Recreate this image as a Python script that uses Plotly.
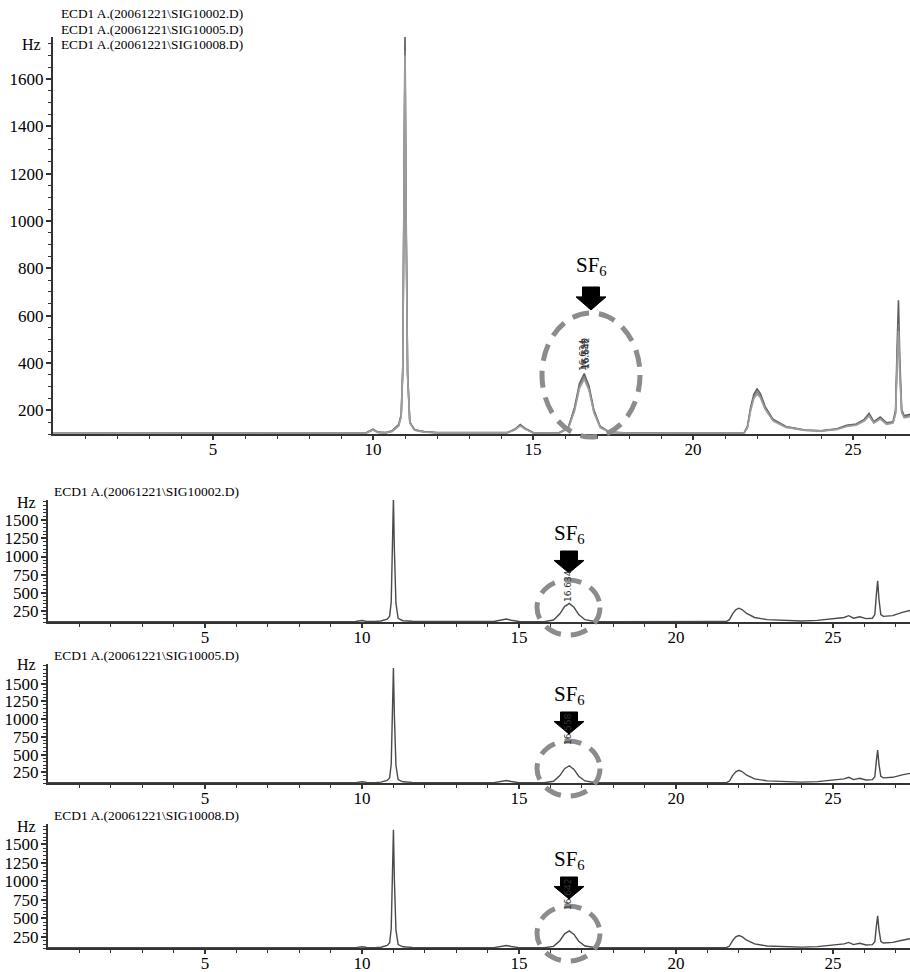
import plotly.graph_objects as go

# ---------------- data ----------------
t = [0.0, 9.5, 9.8, 10.0, 10.15, 10.4, 10.6, 10.8, 10.88, 10.93, 10.97, 11.0, 11.03, 11.08,
     11.15, 11.3, 11.6, 12.0, 14.2, 14.45, 14.6, 14.75, 15.0, 15.8, 16.1, 16.3, 16.45, 16.6,
     16.75, 16.9, 17.1, 17.4, 18.0, 21.6, 21.7, 21.8, 21.9, 22.0, 22.1, 22.25, 22.5, 22.9,
     23.5, 24.0, 24.5, 24.8, 25.1, 25.35, 25.5, 25.65, 25.85, 26.05, 26.25, 26.33, 26.38,
     26.42, 26.46, 26.52, 26.6, 26.9, 27.2, 27.5]

sig_10002 = [103, 103, 106, 120, 108, 106, 114, 140, 180, 380, 1200, 1800, 1100, 360,
             150, 118, 110, 106, 106, 122, 140, 124, 106, 104, 127, 212, 312, 355,
             302, 202, 132, 108, 104, 106, 132, 212, 268, 290, 272, 217, 162, 132,
             117, 114, 122, 137, 142, 162, 187, 152, 172, 147, 152, 202, 480,
             665, 420, 202, 177, 187, 232, 262]

sig_10005 = [103, 103, 105, 118, 107, 105, 112, 136, 175, 370, 1150, 1720, 1050, 350,
             148, 117, 109, 105, 105, 120, 136, 122, 105, 103, 124, 205, 302, 343,
             292, 196, 129, 107, 103, 105, 128, 204, 258, 278, 262, 210, 158, 130,
             116, 113, 120, 134, 139, 158, 180, 148, 166, 143, 148, 190, 420,
             565, 370, 195, 172, 180, 215, 240]

sig_10008 = [103, 103, 105, 117, 106, 105, 111, 134, 172, 365, 1130, 1700, 1030, 345,
             146, 116, 108, 105, 105, 119, 134, 121, 105, 103, 122, 198, 292, 332,
             284, 191, 127, 107, 103, 105, 126, 198, 250, 268, 254, 205, 155, 128,
             115, 112, 119, 132, 137, 155, 176, 146, 163, 141, 146, 185, 400,
             535, 355, 190, 168, 176, 205, 228]

run_names = ["ECD1 A.(20061221\\SIG10002.D)",
             "ECD1 A.(20061221\\SIG10005.D)",
             "ECD1 A.(20061221\\SIG10008.D)"]
peak_rt_labels = ["16.634", "16.558", "16.642"]
runs = [sig_10002, sig_10005, sig_10008]

x_ticks = [5, 10, 15, 20, 25]
x_minor = list(range(1, 28))
y_ticks_top = [200, 400, 600, 800, 1000, 1200, 1400, 1600]
y_ticks_bottom = [250, 500, 750, 1000, 1250, 1500]

# ---------------- layout helpers (pixel -> paper) ----------------
W, H = 910, 972
ML, MR, MT, MB = 48, 0, 37, 24
PW, PH = W - ML - MR, H - MT - MB


def px(x):
    return (x - ML) / PW


def py(y):
    return (H - MB - y) / PH


FONT = "Liberation Serif"
AX = "#333333"

fig = go.Figure()

top_colors = ["#5e5e5e", "#7e7e7e", "#9e9e9e"]
for i, sig in enumerate(runs):
    fig.add_trace(go.Scatter(x=t, y=sig, mode="lines", xaxis="x", yaxis="y",
                             line=dict(color=top_colors[i], width=1.6),
                             showlegend=False, hoverinfo="skip"))
for i, sig in enumerate(runs):
    fig.add_trace(go.Scatter(x=t, y=sig, mode="lines", xaxis=f"x{i+2}", yaxis=f"y{i+2}",
                             line=dict(color="#4a4a4a", width=1.4),
                             showlegend=False, hoverinfo="skip"))

# panel pixel extents (top, bottom of plot area)
panels = [(37, 434), (500, 622), (664, 783), (824, 948)]
xdom_top = [px(53), 1.0]


def xax(dom, rng, anchor):
    return dict(domain=dom, range=rng, anchor=anchor, showline=True, linecolor=AX,
                linewidth=2, ticks="outside", ticklen=4, tickwidth=1.5, tickcolor=AX,
                tickmode="array", tickvals=x_ticks, showgrid=False, zeroline=False,
                ticklabelstandoff=-5,
                tickfont=dict(family=FONT, size=17, color="black"),
                minor=dict(tickmode="array", tickvals=x_minor, ticks="outside",
                           ticklen=3, tickwidth=1.2, tickcolor=AX),
                fixedrange=True)


def yax(dom, tickvals, anchor, minor_dt):
    return dict(domain=dom, range=[100, 1777], anchor=anchor, showline=True,
                linecolor=AX, linewidth=2, ticks="outside", ticklen=5, tickwidth=1.5,
                tickcolor=AX, tickmode="array", tickvals=tickvals, showgrid=False,
                zeroline=False, ticklabelstandoff=-1,
                tickfont=dict(family=FONT, size=17, color="black"),
                minor=dict(dtick=minor_dt, tick0=0, ticks="outside", ticklen=3,
                           tickwidth=1.2, tickcolor=AX),
                fixedrange=True)


layout = dict(width=W, height=H, margin=dict(l=ML, r=MR, t=MT, b=MB),
              paper_bgcolor="white", plot_bgcolor="white", showlegend=False)
layout["xaxis"] = xax(xdom_top, [0, 26.78], "y")
layout["yaxis"] = yax([py(panels[0][1]), py(panels[0][0])], y_ticks_top, "x", 50)
for i in range(3):
    top, bot = panels[i + 1]
    layout[f"xaxis{i+2}"] = xax([0, 1], [0, 27.45], f"y{i+2}")
    layout[f"yaxis{i+2}"] = yax([py(bot), py(top)], y_ticks_bottom, f"x{i+2}", 50)
fig.update_layout(**layout)

ann = []
shapes = []

# titles
for k, name in enumerate(run_names):
    ann.append(dict(x=px(59), y=py(14 + 15.5 * k), xref="paper", yref="paper",
                    text=name, showarrow=False, xanchor="left", yanchor="middle",
                    font=dict(family=FONT, size=13.3, color="black")))
hz_pos = [(43, 45), (38, 502), (38, 664), (38, 826)]
for (hx, hy) in hz_pos:
    ann.append(dict(x=px(hx), y=py(hy), xref="paper", yref="paper", text="Hz",
                    showarrow=False, xanchor="right", yanchor="middle",
                    font=dict(family=FONT, size=16, color="black")))
for i in range(3):
    ann.append(dict(x=px(52), y=py(panels[i + 1][0] - 9), xref="paper", yref="paper",
                    text=run_names[i], showarrow=False, xanchor="left",
                    yanchor="middle", font=dict(family=FONT, size=13.5, color="black")))


def sf6_group(cx, text_y, arrow_top, ah, hw, sw, ell):
    ann.append(dict(x=px(cx), y=py(text_y), xref="paper", yref="paper",
                    text="SF<sub>6</sub>", showarrow=False, xanchor="center",
                    yanchor="middle", font=dict(family=FONT, size=21, color="black")))
    stem_h = ah * 0.43
    pts = [(cx - sw, arrow_top), (cx + sw, arrow_top), (cx + sw, arrow_top + stem_h),
           (cx + hw, arrow_top + stem_h), (cx, arrow_top + ah),
           (cx - hw, arrow_top + stem_h), (cx - sw, arrow_top + stem_h)]
    path = "M " + " L ".join(f"{px(a):.5f},{py(b):.5f}" for a, b in pts) + " Z"
    shapes.append(dict(type="path", path=path, xref="paper", yref="paper",
                       fillcolor="black", line=dict(color="black", width=1),
                       layer="above"))
    x0, x1, y0, y1 = ell
    shapes.append(dict(type="circle", xref="paper", yref="paper",
                       x0=px(x0), x1=px(x1), y0=py(y1), y1=py(y0),
                       line=dict(color="#8c8c8c", width=5, dash="17px,10px"),
                       layer="above"))


# top panel
sf6_group(591, 266, 287, 23, 15, 8.5, (542, 640, 313, 437))
for k, lab in enumerate(peak_rt_labels):
    ann.append(dict(x=px(583 + k * 1.5), y=py(355 - k), xref="paper", yref="paper",
                    text=lab, showarrow=False, textangle=-90,
                    font=dict(family="DejaVu Sans", size=9, color="#333333")))
# bottom panels
for i in range(3):
    ab = panels[i + 1][1]
    sf6_group(569, ab - 88, ab - 71, 22, 15, 8.5, (537, 600, ab - 42, ab + 13))
    ann.append(dict(x=px(568), y=py(ab - 36), xref="paper", yref="paper",
                    text=peak_rt_labels[i], showarrow=False, textangle=-90,
                    font=dict(family="DejaVu Sans", size=9, color="#333333")))

fig.update_layout(annotations=ann, shapes=shapes)
fig.write_html("out.html", config={"displayModeBar": False},
               post_script="document.body.style.margin='0px';"
                           "document.body.style.overflow='hidden';")
